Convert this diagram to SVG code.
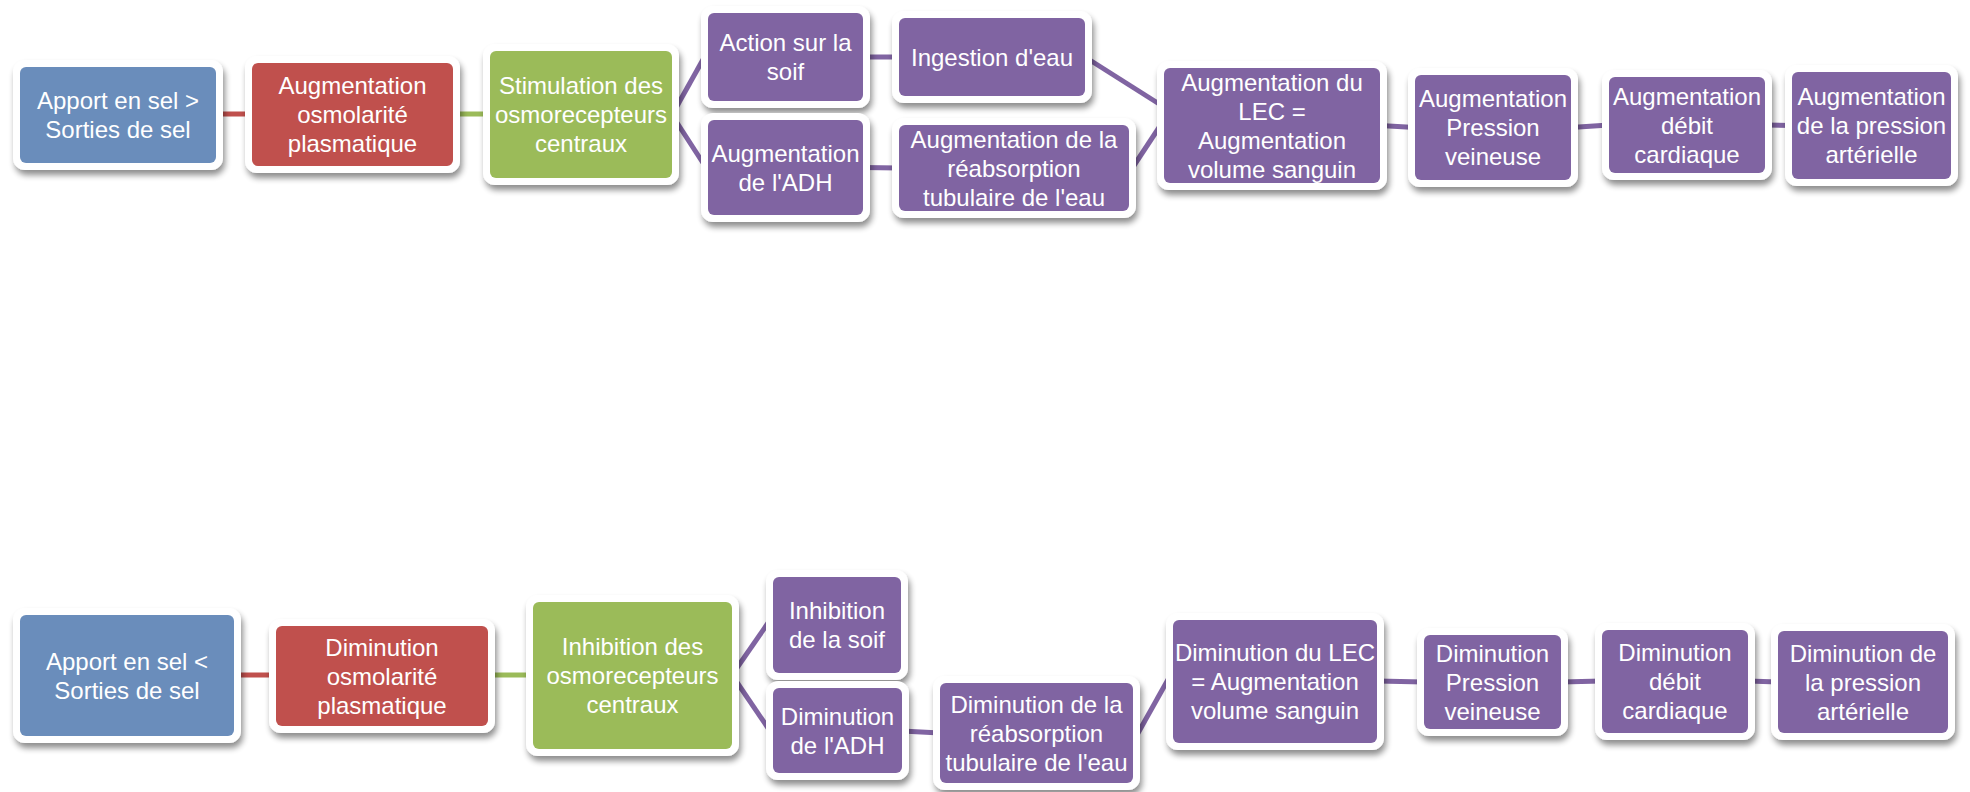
<svg xmlns="http://www.w3.org/2000/svg" width="1970" height="792" viewBox="0 0 1970 792">
<defs>
<filter id="sh" x="-20%" y="-20%" width="140%" height="150%">
<feGaussianBlur in="SourceAlpha" stdDeviation="3"/>
<feOffset dx="2" dy="5" result="b"/>
<feComponentTransfer><feFuncA type="linear" slope="0.45"/></feComponentTransfer>
<feMerge><feMergeNode/><feMergeNode in="SourceGraphic"/></feMerge>
</filter>
</defs>
<style>
.o{fill:#ffffff;filter:url(#sh)}
.b{fill:#6A8DBB}
.r{fill:#C0504D}
.g{fill:#9BBB59}
.p{fill:#8064A2}
.t{font-family:"Liberation Sans",Arial,sans-serif;font-size:24px;fill:#ffffff;text-anchor:middle}
.cr{stroke:#C0504D;stroke-width:5;fill:none}
.cg{stroke:#9BBB59;stroke-width:5;fill:none}
.cp{stroke:#8064A2;stroke-width:5;fill:none}
</style>
<rect width="1970" height="792" fill="#ffffff"/>
<g id="connectors">
<line class="cr" x1="216" y1="114" x2="252" y2="114"/>
<line class="cg" x1="453" y1="114" x2="490" y2="114"/>
<line class="cp" x1="672" y1="115" x2="705" y2="56"/>
<line class="cp" x1="672" y1="115" x2="705" y2="166"/>
<line class="cp" x1="863" y1="57" x2="899" y2="57"/>
<line class="cp" x1="863" y1="167.5" x2="899" y2="168"/>
<line class="cp" x1="1085" y1="57" x2="1164" y2="107"/>
<line class="cp" x1="1129" y1="173" x2="1164" y2="120"/>
<line class="cp" x1="1380" y1="125.5" x2="1415" y2="127.5"/>
<line class="cp" x1="1571" y1="127.5" x2="1609" y2="125"/>
<line class="cp" x1="1765" y1="125" x2="1792" y2="125.5"/>
<line class="cr" x1="234" y1="675" x2="276" y2="675"/>
<line class="cg" x1="488" y1="675" x2="533" y2="675"/>
<line class="cp" x1="732" y1="675" x2="768" y2="623"/>
<line class="cp" x1="732" y1="675" x2="768" y2="728"/>
<line class="cp" x1="902" y1="731" x2="940" y2="733"/>
<line class="cp" x1="1133" y1="742" x2="1170" y2="676"/>
<line class="cp" x1="1377" y1="681" x2="1424" y2="682"/>
<line class="cp" x1="1561" y1="682" x2="1602" y2="681"/>
<line class="cp" x1="1748" y1="681" x2="1778" y2="682"/>
</g>
<g id="t1"><rect class="o" x="13" y="60" width="210" height="110" rx="12"/><rect class="b" x="20" y="67" width="196" height="96" rx="6"/>
<text class="t"><tspan x="118" y="109">Apport en sel &gt;</tspan><tspan x="118" y="138">Sorties de sel</tspan></text></g>
<g id="t2"><rect class="o" x="245" y="56" width="215" height="117" rx="12"/><rect class="r" x="252" y="63" width="201" height="103" rx="6"/>
<text class="t"><tspan x="352.5" y="94">Augmentation</tspan><tspan x="352.5" y="123">osmolarité</tspan><tspan x="352.5" y="152">plasmatique</tspan></text></g>
<g id="t3"><rect class="o" x="483" y="44" width="196" height="141" rx="12"/><rect class="g" x="490" y="51" width="182" height="127" rx="6"/>
<text class="t"><tspan x="581" y="94">Stimulation des</tspan><tspan x="581" y="123">osmorecepteurs</tspan><tspan x="581" y="152">centraux</tspan></text></g>
<g id="t4"><rect class="o" x="701" y="6" width="169" height="102" rx="12"/><rect class="p" x="708" y="13" width="155" height="88" rx="6"/>
<text class="t"><tspan x="785.5" y="51">Action sur la</tspan><tspan x="785.5" y="80">soif</tspan></text></g>
<g id="t5"><rect class="o" x="892" y="11" width="200" height="92" rx="12"/><rect class="p" x="899" y="18" width="186" height="78" rx="6"/>
<text class="t"><tspan x="992" y="65.5">Ingestion d'eau</tspan></text></g>
<g id="t6"><rect class="o" x="701" y="113" width="169" height="109" rx="12"/><rect class="p" x="708" y="120" width="155" height="95" rx="6"/>
<text class="t"><tspan x="785.5" y="161.5">Augmentation</tspan><tspan x="785.5" y="190.5">de l'ADH</tspan></text></g>
<g id="t7"><rect class="o" x="892" y="118" width="244" height="100" rx="12"/><rect class="p" x="899" y="125" width="230" height="86" rx="6"/>
<text class="t"><tspan x="1014" y="147.5">Augmentation de la</tspan><tspan x="1014" y="176.5">réabsorption</tspan><tspan x="1014" y="205.5">tubulaire de l'eau</tspan></text></g>
<g id="t8"><rect class="o" x="1157" y="61" width="230" height="129" rx="12"/><rect class="p" x="1164" y="68" width="216" height="115" rx="6"/>
<text class="t"><tspan x="1272" y="90.5">Augmentation du</tspan><tspan x="1272" y="119.5">LEC =</tspan><tspan x="1272" y="148.5">Augmentation</tspan><tspan x="1272" y="177.5">volume sanguin</tspan></text></g>
<g id="t9"><rect class="o" x="1408" y="68" width="170" height="119" rx="12"/><rect class="p" x="1415" y="75" width="156" height="105" rx="6"/>
<text class="t"><tspan x="1493" y="107">Augmentation</tspan><tspan x="1493" y="136">Pression</tspan><tspan x="1493" y="165">veineuse</tspan></text></g>
<g id="t10"><rect class="o" x="1602" y="70" width="170" height="110" rx="12"/><rect class="p" x="1609" y="77" width="156" height="96" rx="6"/>
<text class="t"><tspan x="1687" y="104.5">Augmentation</tspan><tspan x="1687" y="133.5">débit</tspan><tspan x="1687" y="162.5">cardiaque</tspan></text></g>
<g id="t11"><rect class="o" x="1785" y="65" width="173" height="121" rx="12"/><rect class="p" x="1792" y="72" width="159" height="107" rx="6"/>
<text class="t"><tspan x="1871.5" y="105">Augmentation</tspan><tspan x="1871.5" y="134">de la pression</tspan><tspan x="1871.5" y="163">artérielle</tspan></text></g>
<g id="b1"><rect class="o" x="13" y="608" width="228" height="135" rx="12"/><rect class="b" x="20" y="615" width="214" height="121" rx="6"/>
<text class="t"><tspan x="127" y="669.5">Apport en sel &lt;</tspan><tspan x="127" y="698.5">Sorties de sel</tspan></text></g>
<g id="b2"><rect class="o" x="269" y="619" width="226" height="114" rx="12"/><rect class="r" x="276" y="626" width="212" height="100" rx="6"/>
<text class="t"><tspan x="382" y="655.5">Diminution</tspan><tspan x="382" y="684.5">osmolarité</tspan><tspan x="382" y="713.5">plasmatique</tspan></text></g>
<g id="b3"><rect class="o" x="526" y="595" width="213" height="161" rx="12"/><rect class="g" x="533" y="602" width="199" height="147" rx="6"/>
<text class="t"><tspan x="632.5" y="655">Inhibition des</tspan><tspan x="632.5" y="684">osmorecepteurs</tspan><tspan x="632.5" y="713">centraux</tspan></text></g>
<g id="b4"><rect class="o" x="766" y="570" width="142" height="110" rx="12"/><rect class="p" x="773" y="577" width="128" height="96" rx="6"/>
<text class="t"><tspan x="837" y="619">Inhibition</tspan><tspan x="837" y="648">de la soif</tspan></text></g>
<g id="b5"><rect class="o" x="766" y="681" width="143" height="99" rx="12"/><rect class="p" x="773" y="688" width="129" height="85" rx="6"/>
<text class="t"><tspan x="837.5" y="724.5">Diminution</tspan><tspan x="837.5" y="753.5">de l'ADH</tspan></text></g>
<g id="b6"><rect class="o" x="933" y="676" width="207" height="114" rx="12"/><rect class="p" x="940" y="683" width="193" height="100" rx="6"/>
<text class="t"><tspan x="1036.5" y="712.5">Diminution de la</tspan><tspan x="1036.5" y="741.5">réabsorption</tspan><tspan x="1036.5" y="770.5">tubulaire de l'eau</tspan></text></g>
<g id="b7"><rect class="o" x="1166" y="613" width="218" height="137" rx="12"/><rect class="p" x="1173" y="620" width="204" height="123" rx="6"/>
<text class="t"><tspan x="1275" y="661">Diminution du LEC</tspan><tspan x="1275" y="690">= Augmentation</tspan><tspan x="1275" y="719">volume sanguin</tspan></text></g>
<g id="b8"><rect class="o" x="1417" y="628" width="151" height="108" rx="12"/><rect class="p" x="1424" y="635" width="137" height="94" rx="6"/>
<text class="t"><tspan x="1492.5" y="661.5">Diminution</tspan><tspan x="1492.5" y="690.5">Pression</tspan><tspan x="1492.5" y="719.5">veineuse</tspan></text></g>
<g id="b9"><rect class="o" x="1595" y="623" width="160" height="117" rx="12"/><rect class="p" x="1602" y="630" width="146" height="103" rx="6"/>
<text class="t"><tspan x="1675" y="661">Diminution</tspan><tspan x="1675" y="690">débit</tspan><tspan x="1675" y="719">cardiaque</tspan></text></g>
<g id="b10"><rect class="o" x="1771" y="624" width="184" height="116" rx="12"/><rect class="p" x="1778" y="631" width="170" height="102" rx="6"/>
<text class="t"><tspan x="1863" y="661.5">Diminution de</tspan><tspan x="1863" y="690.5">la pression</tspan><tspan x="1863" y="719.5">artérielle</tspan></text></g>
</svg>
